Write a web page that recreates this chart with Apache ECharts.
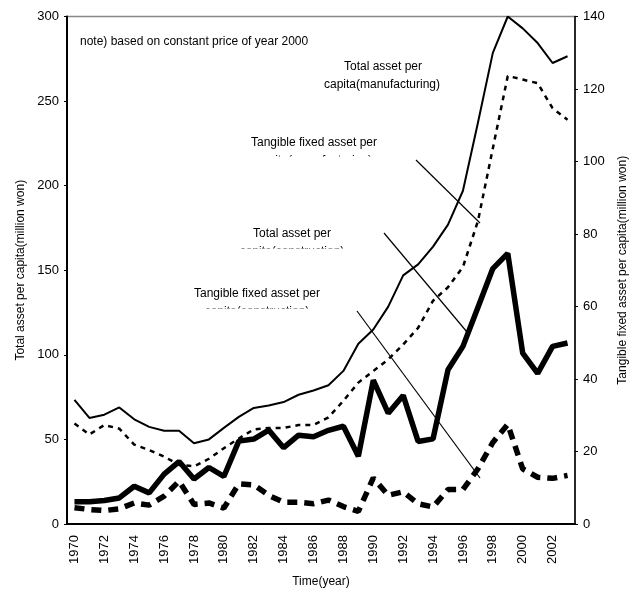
<!DOCTYPE html>
<html>
<head>
<meta charset="utf-8">
<script src="https://cdn.jsdelivr.net/npm/echarts@6/dist/echarts.min.js"></script>
<style>
html,body{margin:0;padding:0;background:#fff;}
#chart{width:637px;height:593px;}
</style>
</head>
<body>
<div id="chart"></div>
<script>
// Data (years and values)
var years = ['1970','1971','1972','1973','1974','1975','1976','1977','1978','1979',
             '1980','1981','1982','1983','1984','1985','1986','1987','1988','1989',
             '1990','1991','1992','1993','1994','1995','1996','1997','1998','1999',
             '2000','2001','2002','2003'];

// left axis (million won)
var totalManufacturing = [73.4,62.7,64.6,68.9,61.9,57.4,55.1,55.1,47.7,50.0,
                          56.8,63.3,68.6,70.1,72.1,76.4,78.9,82.0,90.5,106.5,
                          115.0,128.5,147.0,153.5,164.0,177.0,197.0,237.0,278.5,300.0,
                          293.0,284.3,272.5,276.5];
var totalConstruction = [13.1,13.1,13.9,15.4,22.3,18.4,29.5,36.9,26.6,33.4,
                         28.1,49.0,50.2,55.5,45.1,52.5,51.6,55.4,57.8,40.0,
                         85.0,65.5,76.0,48.8,50.3,91.2,105.0,128.0,151.0,160.0,
                         101.0,89.0,105.0,107.0];
// right axis (million won)
var tangibleManufacturing = [27.7,24.7,27.3,26.3,21.9,20.4,18.6,16.3,15.9,18.0,
                             20.9,23.6,26.1,26.5,26.5,27.3,27.3,29.4,34.0,39.0,
                             42.2,45.4,49.5,54.1,61.6,65.3,70.9,83.5,103.6,123.6,
                             122.6,121.6,114.7,111.5];
var tangibleConstruction = [4.5,4.0,3.7,4.2,5.8,5.2,7.7,11.8,5.4,5.8,
                            4.4,11.1,10.8,7.9,6.0,6.0,5.6,6.6,4.8,3.5,
                            12.7,7.9,8.9,5.6,4.7,9.5,9.5,15.2,22.5,27.5,
                            15.2,12.9,12.6,13.4];

var leftTicks = {min:0, max:300, interval:50};
var rightTicks = {min:0, max:140, interval:20};

var FONT = '"Liberation Sans", Arial, sans-serif';
var chart = echarts.init(document.getElementById('chart'), null, {renderer:'canvas'});

function txt(x, y, s, align) {
  return {type:'text', z:100, x:x, y:y,
    style:{text:s, fill:'#000', font:'12px ' + FONT, textAlign:align||'center', textVerticalAlign:'middle'}};
}
function ln(x1,y1,x2,y2){
  return {type:'line', z:100, shape:{x1:x1,y1:y1,x2:x2,y2:y2}, style:{stroke:'#000', lineWidth:1.2}};
}
function cover(x,y,w,h){
  return {type:'rect', z:101, shape:{x:x,y:y,width:w,height:h}, style:{fill:'#fff'}};
}

var option = {
  animation:false,
  backgroundColor:'#fff',
  textStyle:{fontFamily:FONT},
  grid:{left:67, right:62, top:16.5, bottom:64, show:true, borderColor:'#888', borderWidth:1.5, backgroundColor:'transparent'},
  xAxis:{
    type:'category', data:years, boundaryGap:true,
    axisLine:{lineStyle:{color:'#000', width:2}},
    axisTick:{inside:true, length:5, interval:0, lineStyle:{color:'#000', width:1}},
    axisLabel:{interval:1, rotate:90, color:'#000', fontSize:13, margin:11, fontFamily:FONT},
    name:'Time(year)', nameLocation:'middle', nameGap:52,
    nameTextStyle:{color:'#000', fontSize:12, fontFamily:FONT},
    splitLine:{show:false}
  },
  yAxis:[{
    type:'value', min:leftTicks.min, max:leftTicks.max, interval:leftTicks.interval, position:'left',
    axisLine:{show:true, lineStyle:{color:'#000', width:2}},
    axisTick:{show:true, length:3, lineStyle:{color:'#000'}},
    axisLabel:{color:'#000', fontSize:13, margin:8, fontFamily:FONT},
    splitLine:{show:false},
    name:'Total asset per capita(million won)', nameLocation:'middle', nameGap:40, nameRotate:90,
    nameTextStyle:{color:'#000', fontSize:12, fontFamily:FONT}
  },{
    type:'value', min:rightTicks.min, max:rightTicks.max, interval:rightTicks.interval, position:'right',
    axisLine:{show:true, lineStyle:{color:'#000', width:1.5}},
    axisTick:{show:true, length:3, lineStyle:{color:'#000'}},
    axisLabel:{color:'#000', fontSize:13, margin:8, fontFamily:FONT},
    splitLine:{show:false},
    name:'Tangible fixed asset per capita(million won)', nameLocation:'middle', nameGap:42, nameRotate:90,
    nameTextStyle:{color:'#000', fontSize:12, fontFamily:FONT}
  }],
  series:[
    {name:'Total asset per capita(manufacturing)', type:'line', yAxisIndex:0, data:totalManufacturing,
     symbol:'none', lineStyle:{color:'#000', width:2}},
    {name:'Tangible fixed asset per capita(manufacturing)', type:'line', yAxisIndex:1, data:tangibleManufacturing,
     symbol:'none', lineStyle:{color:'#000', width:2.5, type:[5,5]}},
    {name:'Total asset per capita(construction)', type:'line', yAxisIndex:0, data:totalConstruction,
     symbol:'none', lineStyle:{color:'#000', width:5.5}},
    {name:'Tangible fixed asset per capita(construction)', type:'line', yAxisIndex:1, data:tangibleConstruction,
     symbol:'none', lineStyle:{color:'#000', width:5.5, type:[10,7]}}
  ],
  graphic:[
    txt(80, 42, 'note) based on constant price of year 2000', 'left'),
    txt(383, 67, 'Total asset per'),
    txt(382, 85, 'capita(manufacturing)'),
    txt(314, 143, 'Tangible fixed asset per'),
    txt(314, 161, 'capita(manufacturing)'),
    cover(240, 156.5, 150, 14),
    txt(292, 234, 'Total asset per'),
    txt(292, 252, 'capita(construction)'),
    cover(230, 248.5, 125, 14),
    txt(257, 294, 'Tangible fixed asset per'),
    txt(257, 312, 'capita(construction)'),
    cover(190, 308.5, 135, 14),
    ln(416,160,480,223),
    ln(384,233,467,332),
    ln(357,311,480,478)
  ]
};
chart.setOption(option);
</script>
</body>
</html>
